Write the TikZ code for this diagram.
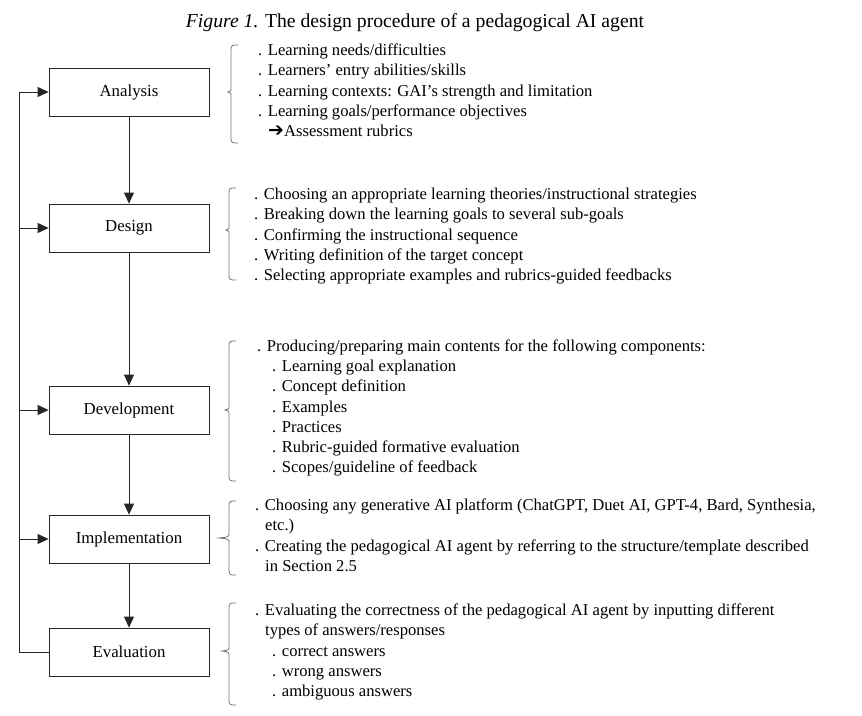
\documentclass[tikz,border=0pt]{standalone}
\usepackage{fontspec}
\setmainfont{Liberation Serif}
\newfontfamily\dejavu{DejaVu Sans}
\usetikzlibrary{arrows.meta}
\tikzset{
  stagebox/.style={draw=black!85, line width=0.8pt, minimum width=160pt, minimum height=48pt, inner sep=0pt, font=\fontsize{16.8}{20}\selectfont},
  conn/.style={draw=black!85, line width=0.8pt, -{Triangle[length=11pt,width=10pt]}},
  plainconn/.style={draw=black!85, line width=0.8pt},
  bracepath/.style={draw=black!55, line width=0.8pt},
  itemtext/.style={anchor=base west, inner sep=0pt, font=\fontsize{16.6}{20}\selectfont},
}
\newcommand{\mybrace}[5]{% x, top, mid, bot, tip
  \draw[bracepath] ({#1+7},#2) .. controls ({#1+1},#2) and (#1,#2) .. (#1,{#2+5})
    -- (#1,{#3-5}) .. controls (#1,{#3-1}) .. (#5,#3)
    .. controls (#1,{#3+1}) .. (#1,{#3+5})
    -- (#1,{#4-5}) .. controls (#1,#4) and ({#1+1},#4) .. ({#1+7},#4);}
\begin{document}
\begin{tikzpicture}[x=1pt,y=-1pt]
\useasboundingbox (0,0) rectangle (862,715);
\node[anchor=base, inner sep=0pt, font=\fontsize{19.7}{22}\selectfont] (title) at (415,27) {\textit{Figure 1.} The design procedure of a pedagogical AI agent};

\node[stagebox] (ana) at (129,92) {Analysis};
\node[stagebox] (des) at (129,228) {Design};
\node[stagebox] (dev) at (129,410) {Development};
\node[stagebox] (imp) at (129,539) {Implementation};
\node[stagebox] (eva) at (129,652) {Evaluation};

\draw[conn] (ana) -- (des);
\draw[conn] (des) -- (dev);
\draw[conn] (dev) -- (imp);
\draw[conn] (imp) -- (eva);

\coordinate (fb) at (19,652);
\coordinate (fbtop) at (19,92);
\draw[plainconn] (eva.west) -- (fb) -- (fbtop);
\draw[conn] (fbtop) -- (ana.west);
\draw[conn] (19,228) -- (des.west);
\draw[conn] (19,410) -- (dev.west);
\draw[conn] (19,539) -- (imp.west);

\mybrace{231}{45}{92}{143}{228}
\mybrace{229}{188}{230}{280}{226}
\mybrace{229}{341}{410}{481}{225}
\mybrace{229}{501}{538}{575}{219}
\mybrace{229}{603}{651}{705}{222}

% Analysis
\node[itemtext] (a1) at (258,55.5) {. Learning needs/difficulties};
\node[itemtext] (a2) at (258,75.75) {. Learners’ entry abilities/skills};
\node[itemtext] (a3) at (258,96) {. Learning contexts: GAI’s strength and limitation};
\node[itemtext] (a4) at (258,116.25) {. Learning goals/performance objectives};
\node[itemtext] (a5) at (268,136.5) {{\dejavu\fontsize{19}{19}\selectfont ➔}Assessment rubrics};
% Design
\node[itemtext] (d1) at (254,199.5) {. Choosing an appropriate learning theories/instructional strategies};
\node[itemtext] (d2) at (254,219.75) {. Breaking down the learning goals to several sub-goals};
\node[itemtext] (d3) at (254,240) {. Confirming the instructional sequence};
\node[itemtext] (d4) at (254,260.25) {. Writing definition of the target concept};
\node[itemtext] (d5) at (254,280.5) {. Selecting appropriate examples and rubrics-guided feedbacks};
% Development
\node[itemtext] (v1) at (257,351.5) {. Producing/preparing main contents for the following components:};
\node[itemtext] (v2) at (272,371.7) {. Learning goal explanation};
\node[itemtext] (v3) at (272,391.9) {. Concept definition};
\node[itemtext] (v4) at (272,412.1) {. Examples};
\node[itemtext] (v5) at (272,432.3) {. Practices};
\node[itemtext] (v6) at (272,452.5) {. Rubric-guided formative evaluation};
\node[itemtext] (v7) at (272,472.7) {. Scopes/guideline of feedback};
% Implementation
\node[itemtext] (i1) at (255,510.5) {. Choosing any generative AI platform (ChatGPT, Duet AI, GPT-4, Bard, Synthesia,};
\node[itemtext] (i2) at (265,530.75) {etc.)};
\node[itemtext] (i3) at (255,551) {. Creating the pedagogical AI agent by referring to the structure/template described};
\node[itemtext] (i4) at (265,571.25) {in Section 2.5};
% Evaluation
\node[itemtext] (e1) at (255,615.5) {. Evaluating the correctness of the pedagogical AI agent by inputting different};
\node[itemtext] (e2) at (265,635.75) {types of answers/responses};
\node[itemtext] (e3) at (272,656) {. correct answers};
\node[itemtext] (e4) at (272,676.25) {. wrong answers};
\node[itemtext] (e5) at (272,696.5) {. ambiguous answers};
\end{tikzpicture}
\end{document}
